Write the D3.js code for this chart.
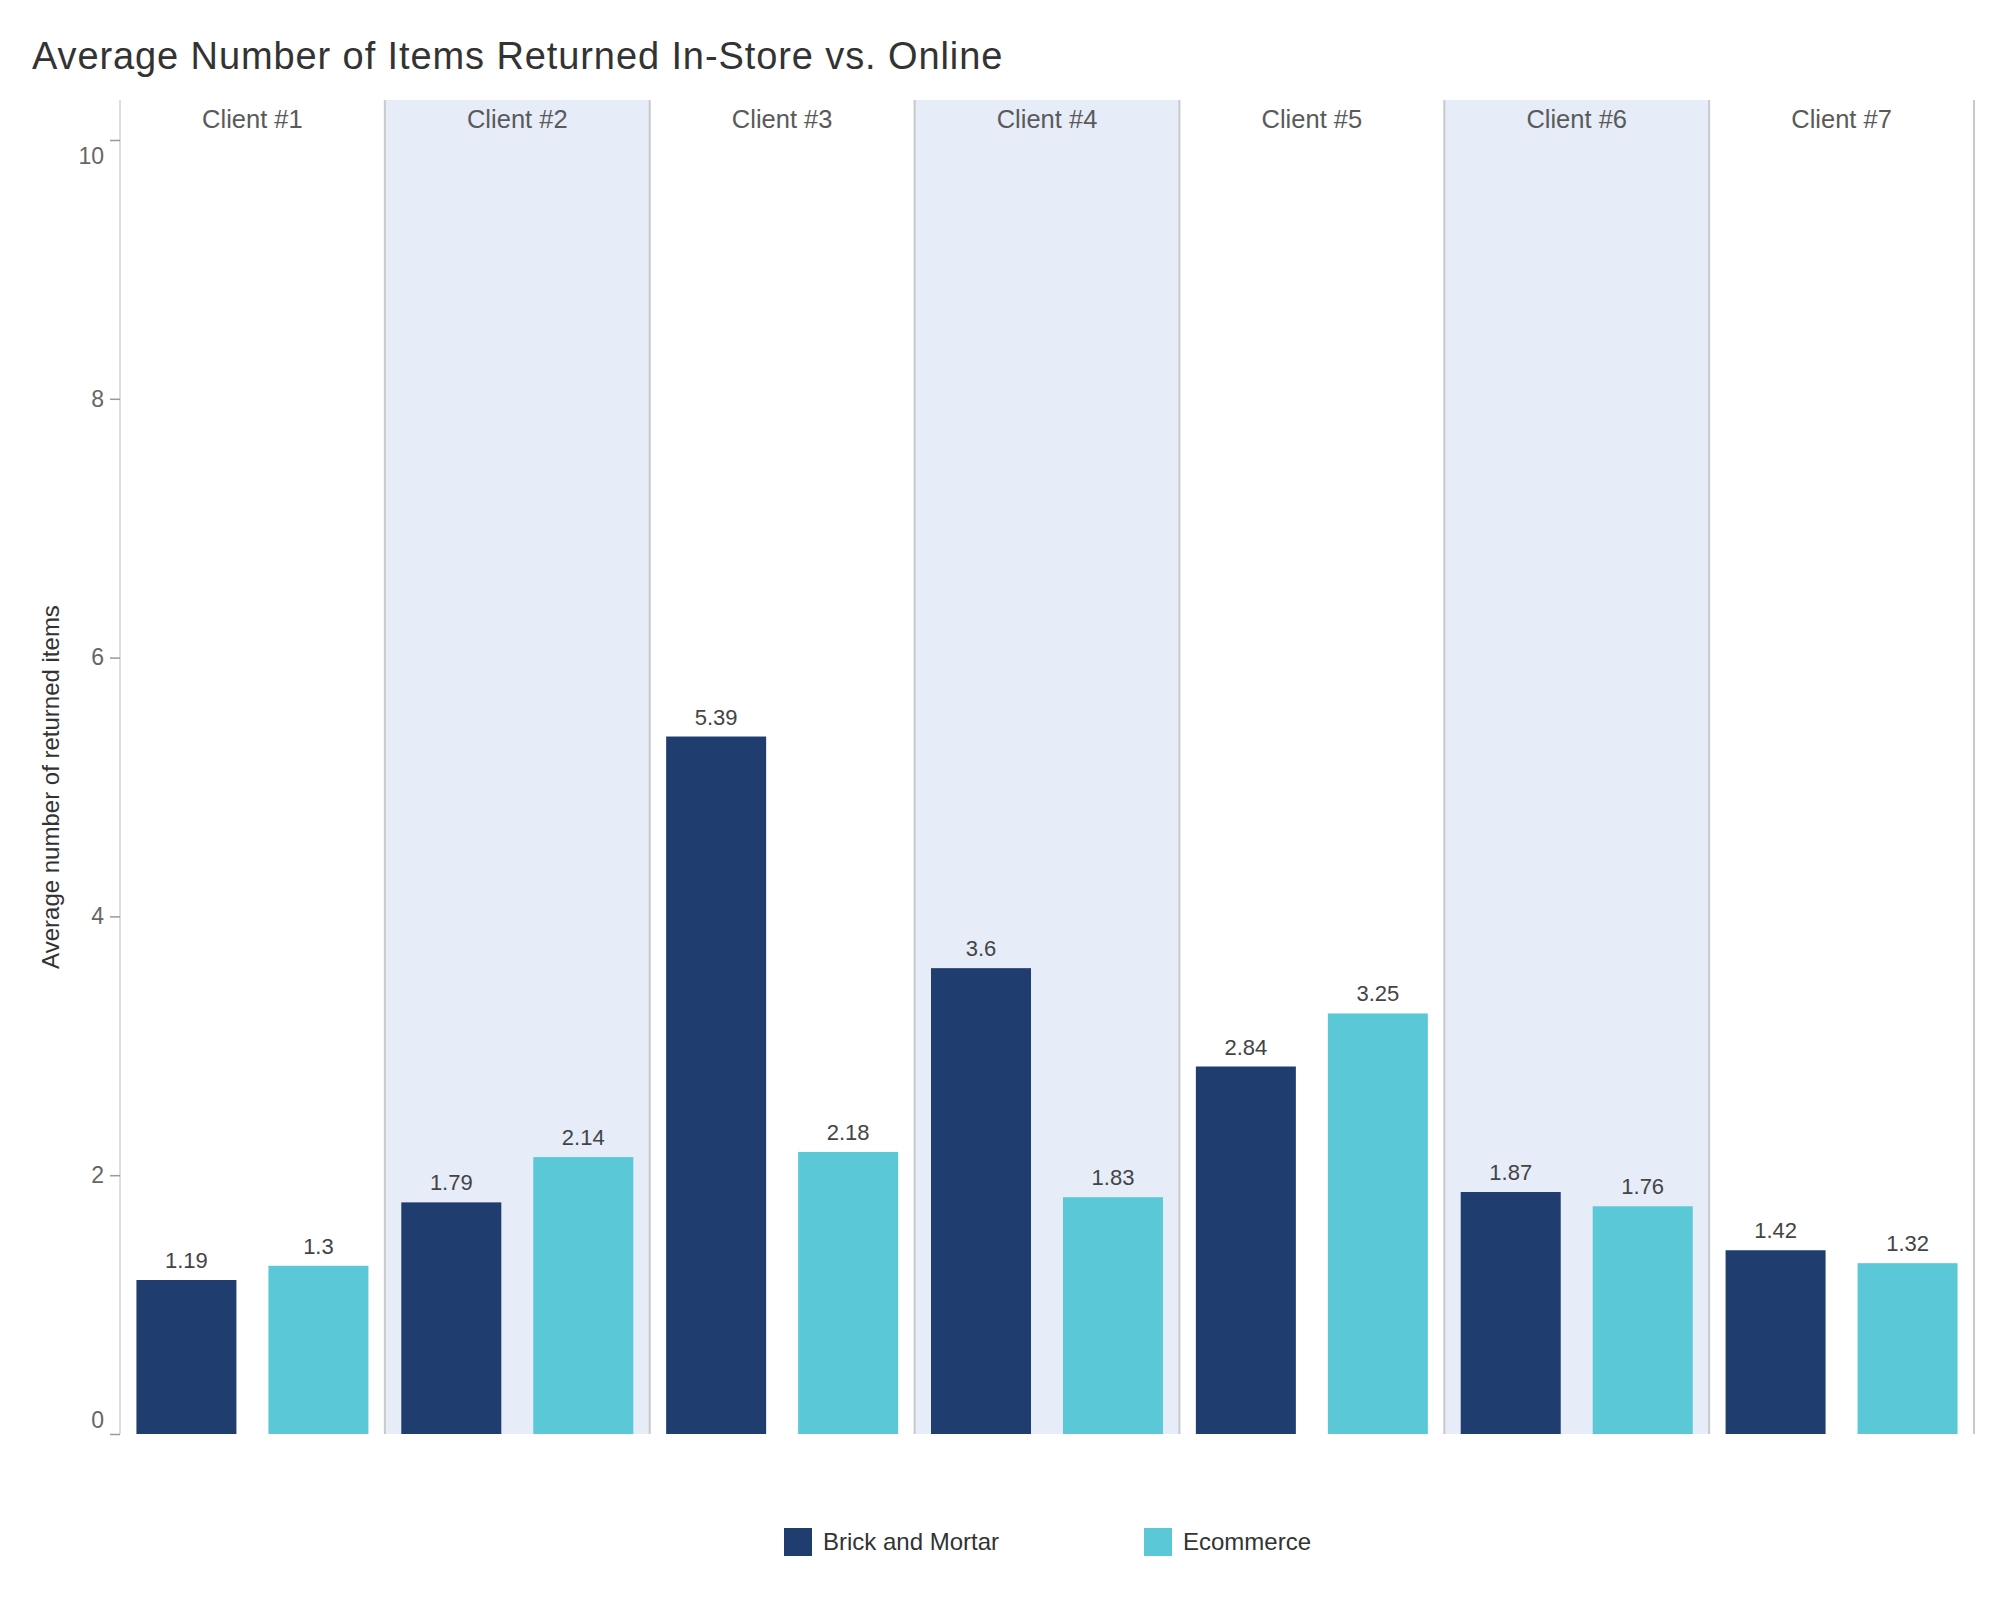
<!DOCTYPE html>
<html>
<head>
<meta charset="utf-8">
<script src="https://cdn.jsdelivr.net/npm/d3@7"></script>
<style>
  html, body { margin: 0; padding: 0; background: #ffffff; }
  svg text { font-family: "Liberation Sans", Arial, Helvetica, sans-serif; }
</style>
</head>
<body>
<svg id="chart" width="2000" height="1600"></svg>
<script>
const clients = ["Client #1", "Client #2", "Client #3", "Client #4", "Client #5", "Client #6", "Client #7"];
const seriesNames = ["Brick and Mortar", "Ecommerce"];
const brickAndMortar = [1.19, 1.79, 5.39, 3.6, 2.84, 1.87, 1.42];
const ecommerce = [1.3, 2.14, 2.18, 1.83, 3.25, 1.76, 1.32];
const yTicks = [0, 2, 4, 6, 8, 10];
const titleText = "Average Number of Items Returned In-Store vs. Online";
const yLabelText = "Average number of returned items";

const colors = { "Brick and Mortar": "#1f3d6e", "Ecommerce": "#5bc8d8" };
const seriesValues = { "Brick and Mortar": brickAndMortar, "Ecommerce": ecommerce };

const rows = [];
clients.forEach((c, i) => {
  seriesNames.forEach(s => rows.push({ client: c, series: s, value: seriesValues[s][i] }));
});

const svg = d3.select("#chart");
const plotLeft = 120, plotRight = 1974, headerTop = 100, plotTop = 140, plotBottom = 1434;

const x = d3.scaleBand().domain(clients).range([plotLeft, plotRight]).padding(0);
const xi = d3.scaleBand().domain(seriesNames).range([0, x.bandwidth()])
  .paddingInner(0.2424).paddingOuter(0.1245);
const y = d3.scaleLinear().domain([0, 10]).range([plotBottom, plotTop]);

// shaded alternating panels
svg.append("g").selectAll("rect")
  .data(clients.filter((c, i) => i % 2 === 1))
  .join("rect")
  .attr("x", d => x(d))
  .attr("y", headerTop)
  .attr("width", x.bandwidth())
  .attr("height", plotBottom - headerTop)
  .attr("fill", "#e6ecf8");

// separators
svg.append("g").selectAll("line")
  .data(clients.slice(1).concat(["__end"]))
  .join("line")
  .attr("x1", d => d === "__end" ? plotRight : x(d))
  .attr("x2", d => d === "__end" ? plotRight : x(d))
  .attr("y1", headerTop)
  .attr("y2", plotBottom)
  .attr("stroke", "#c9c9cc")
  .attr("stroke-width", 2);

// y axis line
svg.append("line")
  .attr("x1", plotLeft).attr("x2", plotLeft)
  .attr("y1", headerTop).attr("y2", plotBottom)
  .attr("stroke", "#c8c8c8").attr("stroke-width", 1.2);

// y ticks via d3 axis
const yAxis = d3.axisLeft(y).tickValues(yTicks).tickSize(10).tickPadding(6).tickFormat(d3.format("d"));
const gy = svg.append("g").attr("transform", `translate(${plotLeft},0)`).call(yAxis);
gy.select(".domain").remove();
gy.selectAll(".tick line").attr("stroke", "#999999").attr("stroke-width", 1.5);
gy.selectAll(".tick text")
  .attr("fill", "#666666")
  .style("font-size", "23px")
  .attr("dy", d => d === 10 ? "1.0em" : (d === 0 ? "-0.3em" : "0.32em"));

// y label
svg.append("text")
  .attr("transform", `translate(59,${(plotTop + plotBottom) / 2}) rotate(-90)`)
  .attr("text-anchor", "middle")
  .attr("fill", "#333333")
  .style("font-size", "24px")
  .text(yLabelText);

// client header labels
svg.append("g").selectAll("text")
  .data(clients)
  .join("text")
  .attr("x", d => x(d) + x.bandwidth() / 2)
  .attr("y", 128)
  .attr("text-anchor", "middle")
  .attr("fill", "#5a5a5a")
  .style("font-size", "25.5px")
  .text(d => d);

// bars
svg.append("g").selectAll("rect")
  .data(rows)
  .join("rect")
  .attr("x", d => x(d.client) + xi(d.series))
  .attr("y", d => y(d.value))
  .attr("width", xi.bandwidth())
  .attr("height", d => y(0) - y(d.value))
  .attr("fill", d => colors[d.series]);

// value labels
svg.append("g").selectAll("text")
  .data(rows)
  .join("text")
  .attr("x", d => x(d.client) + xi(d.series) + xi.bandwidth() / 2)
  .attr("y", d => y(d.value) - 12)
  .attr("text-anchor", "middle")
  .attr("fill", "#444444")
  .style("font-size", "22px")
  .text(d => String(d.value));

// title
svg.append("text")
  .attr("x", 32).attr("y", 69)
  .attr("fill", "#333333")
  .style("font-size", "38px")
  .style("letter-spacing", "0.9px")
  .text(titleText);

// legend
const legendX = { "Brick and Mortar": 784, "Ecommerce": 1144 };
const lg = svg.append("g").selectAll("g").data(seriesNames).join("g")
  .attr("transform", d => `translate(${legendX[d]},1528)`);
lg.append("rect").attr("width", 28).attr("height", 28).attr("fill", d => colors[d]);
lg.append("text").attr("x", 39).attr("y", 22)
  .attr("fill", "#333333").style("font-size", "24px").text(d => d);
</script>
</body>
</html>
